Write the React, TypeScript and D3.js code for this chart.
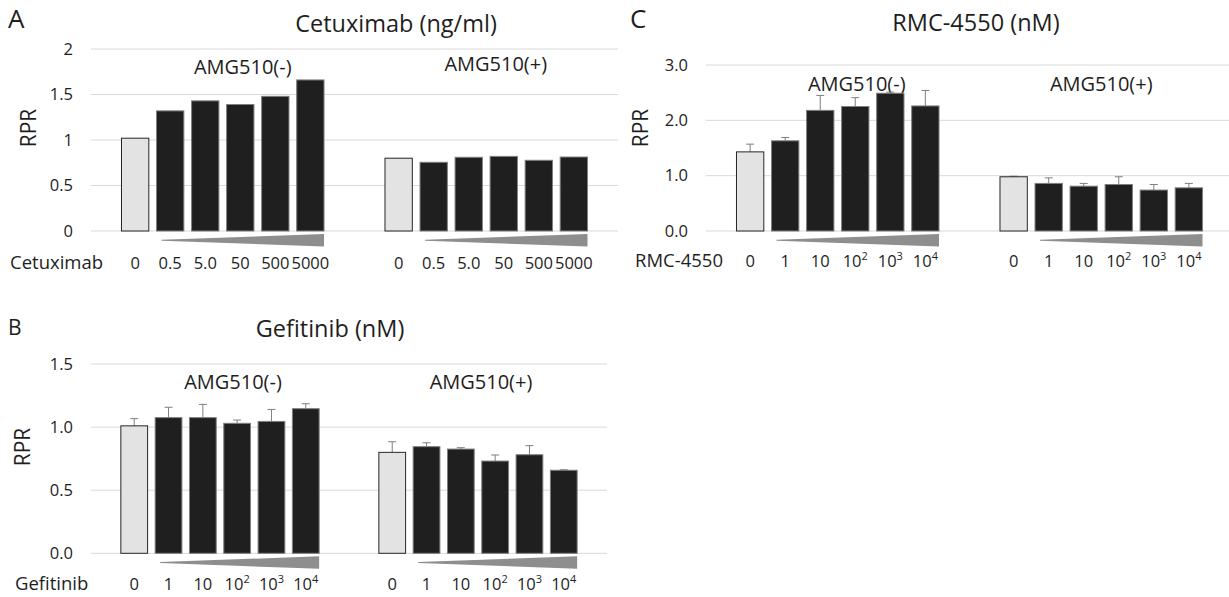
import React from "react";
import * as d3 from "d3";

const FONT = "'Open Sans', 'Noto Sans', sans-serif";
const TEXT = "#1e1e1e";

const GROUPS = ["AMG510(-)", "AMG510(+)"];
const CETUX_DOSES = ["0", "0.5", "5.0", "50", "500", "5000"];
const LOG_DOSES = ["0", "1", "10", "10^2", "10^3", "10^4"];

// A: cetuximab, no error bars
const cetuxNeg = [1.02, 1.32, 1.43, 1.39, 1.48, 1.66];
const cetuxPos = [0.8, 0.755, 0.81, 0.82, 0.777, 0.813];

// B: gefitinib
const gefNeg = [1.01, 1.075, 1.075, 1.03, 1.045, 1.146];
const gefNegSd = [0.057, 0.082, 0.105, 0.026, 0.095, 0.039];
const gefPos = [0.8, 0.845, 0.826, 0.731, 0.781, 0.658];
const gefPosSd = [0.084, 0.031, 0.011, 0.048, 0.072, 0.004];

// C: RMC-4550
const rmcNeg = [1.43, 1.63, 2.18, 2.25, 2.49, 2.26];
const rmcNegSd = [0.14, 0.06, 0.27, 0.16, 0.02, 0.28];
const rmcPos = [0.98, 0.86, 0.81, 0.84, 0.74, 0.78];
const rmcPosSd = [0.01, 0.1, 0.05, 0.14, 0.1, 0.08];

const PANELS = [
  {
    letter: "A", letterX: 8, letterY: 28, letterSize: 26,
    title: "Cetuximab (ng/ml)", titleX: 396, titleY: 31.5,
    left: 91, right: 618, y0: 231, yTop: 49, yMax: 2, tickStep: 0.5,
    fmt: (d) => String(d),
    rprX: 29, rprY: 128,
    drug: "Cetuximab", drugX: 10, labelY: 269,
    groupLabelDx: [20, 9.5], groupLabelY: [74, 71],
    doses: CETUX_DOSES,
    values: [cetuxNeg, cetuxPos], sds: null,
  },
  {
    letter: "B", letterX: 8, letterY: 335, letterSize: 21,
    title: "Gefitinib (nM)", titleX: 330, titleY: 336.5,
    left: 91, right: 607, y0: 553.3, yTop: 364, yMax: 1.5, tickStep: 0.5,
    fmt: d3.format(".1f"),
    rprX: 23, rprY: 447,
    drug: "Gefitinib", drugX: 15, labelY: 590,
    groupLabelDx: [13, 3], groupLabelY: [389, 389],
    doses: LOG_DOSES,
    values: [gefNeg, gefPos], sds: [gefNegSd, gefPosSd],
  },
  {
    letter: "C", letterX: 630, letterY: 28, letterSize: 26,
    title: "RMC-4550 (nM)", titleX: 976, titleY: 30.7,
    left: 706, right: 1233, y0: 231, yTop: 65, yMax: 3, tickStep: 1,
    fmt: d3.format(".1f"),
    rprX: 641, rprY: 128,
    drug: "RMC-4550", drugX: 635, labelY: 267,
    groupLabelDx: [19, 0], groupLabelY: [90.5, 90.5],
    doses: LOG_DOSES,
    values: [rmcNeg, rmcPos], sds: [rmcNegSd, rmcPosSd],
  },
];

function DoseLabel({ x, y, label }) {
  const [base, sup] = label.split("^");
  return (
    <text x={x} y={y} textAnchor="middle" fontSize={16.5} fill={TEXT}>
      <tspan>{base}</tspan>
      {sup && (
        <tspan dy={-7} fontSize={11}>
          {sup}
        </tspan>
      )}
    </text>
  );
}

function Panel({ p }) {
  const outer = d3.scaleBand().domain(GROUPS).range([p.left, p.right]).padding(0);
  const inner = d3
    .scaleBand()
    .domain(p.doses)
    .range([0, outer.bandwidth()])
    .paddingInner(0.22)
    .paddingOuter(0.87);
  const y = d3.scaleLinear().domain([0, p.yMax]).range([p.y0, p.yTop]);
  const ticks = d3.range(0, p.yMax + p.tickStep / 2, p.tickStep);
  const bw = inner.bandwidth();

  return (
    <g fontFamily={FONT}>
      <text x={p.letterX} y={p.letterY} fontSize={p.letterSize} fill={TEXT}>
        {p.letter}
      </text>
      <text x={p.titleX} y={p.titleY} textAnchor="middle" fontSize={23.5} fill={TEXT}>
        {p.title}
      </text>

      {ticks.map((t) => (
        <g key={t}>
          <line x1={p.left} x2={p.right} y1={y(t)} y2={y(t)} stroke="#d9d9d9" strokeWidth={1} />
          <text
            x={p.left - 18}
            y={y(t)}
            dy="0.35em"
            textAnchor="end"
            fontSize={16.5}
            fill={TEXT}
          >
            {p.fmt(t)}
          </text>
        </g>
      ))}

      <text
        transform={`translate(${p.rprX},${p.rprY}) rotate(-90)`}
        textAnchor="middle"
        dy="0.35em"
        fontSize={21}
        fill={TEXT}
      >
        RPR
      </text>

      {GROUPS.map((g, gi) => {
        const gx = outer(g);
        const vals = p.values[gi];
        const sds = p.sds ? p.sds[gi] : null;
        const x1 = gx + inner(p.doses[1]) + 5;
        const x2 = gx + inner(p.doses[p.doses.length - 1]) + bw;
        const wTop = p.y0 + 3;
        const wBot = p.y0 + 15.5;
        const wedge = d3.line()([
          [x1, (wTop + wBot) / 2 - 0.5],
          [x2, wTop],
          [x2, wBot],
          [x1, (wTop + wBot) / 2 + 0.5],
        ]) + "Z";
        return (
          <g key={g}>
            <text
              x={gx + outer.bandwidth() / 2 + p.groupLabelDx[gi]}
              y={p.groupLabelY[gi]}
              textAnchor="middle"
              fontSize={20}
              fill={TEXT}
            >
              {g}
            </text>
            {p.doses.map((d, i) => {
              const bx = gx + inner(d);
              const top = y(vals[i]);
              const isCtrl = i === 0;
              return (
                <g key={d}>
                  {sds && (
                    <g stroke="#7f7f7f" strokeWidth={1}>
                      <line x1={bx + bw / 2} x2={bx + bw / 2} y1={top} y2={y(vals[i] + sds[i])} />
                      <line
                        x1={bx + bw / 2 - 4}
                        x2={bx + bw / 2 + 4}
                        y1={y(vals[i] + sds[i])}
                        y2={y(vals[i] + sds[i])}
                      />
                    </g>
                  )}
                  <rect
                    x={bx}
                    y={top}
                    width={bw}
                    height={p.y0 - top}
                    fill={isCtrl ? "#e3e3e3" : "#1f1f1f"}
                    stroke={isCtrl ? "#262626" : "#7f7f7f"}
                    strokeWidth={1}
                  />
                  <DoseLabel x={bx + bw / 2} y={p.labelY} label={d} />
                </g>
              );
            })}
            <path d={wedge} fill="#8e8e8e" />
          </g>
        );
      })}

      <text x={p.drugX} y={p.labelY} fontSize={18.5} fill={TEXT}>
        {p.drug}
      </text>
    </g>
  );
}

export default function App() {
  return (
    <svg
      width={1229}
      height={597}
      style={{ position: "absolute", left: 0, top: 0, background: "#fff" }}
    >
      {PANELS.map((p) => (
        <Panel key={p.letter} p={p} />
      ))}
    </svg>
  );
}
